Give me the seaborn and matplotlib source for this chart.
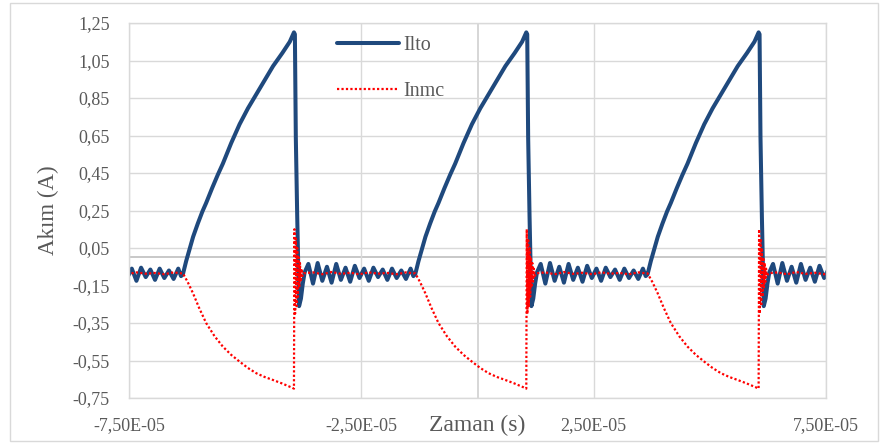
import numpy as np
import pandas as pd
import matplotlib
matplotlib.use("Agg")
import matplotlib.pyplot as plt
import seaborn as sns
from matplotlib.patches import Rectangle
from matplotlib.lines import Line2D

# ---------------- data ----------------
# ramp start times of the pulses (microseconds); period is 50 us
cycle_starts_us = [-113.4, -63.4, -13.4, 36.6]

# Ilto: one period, offsets from ramp start (us) and current (A)
ilto_offsets = [0.0, 0.7, 1.4, 2.2, 3.2, 4.2, 5.0, 6.3, 7.5, 8.6,
                10.4, 12.2, 14.0, 15.8, 17.6, 19.4, 21.4, 23.0, 23.9, 24.1,
                24.3, 24.6, 25.0, 25.4, 25.8, 26.2, 27.0, 28.0, 29.0, 30.0,
                31.0, 32.0, 33.0, 34.0, 35.0, 36.0, 37.0, 38.0, 39.0, 40.0,
                41.0, 42.0, 43.0, 44.0, 45.0, 46.0, 47.0, 48.0, 49.0, 49.6]
ilto_values = [-0.09, -0.02, 0.04, 0.11, 0.18, 0.245, 0.29, 0.37, 0.44, 0.50,
               0.61, 0.71, 0.795, 0.87, 0.945, 1.02, 1.09, 1.15, 1.20, 1.19,
               0.64, 0.22, -0.26, -0.22, -0.14, -0.08, -0.035, -0.14, -0.03, -0.125,
               -0.05, -0.135, -0.035, -0.12, -0.055, -0.13, -0.045, -0.11, -0.06, -0.125,
               -0.055, -0.105, -0.065, -0.12, -0.06, -0.11, -0.07, -0.115, -0.06, -0.10]

# Inmc: one period, offsets from ramp start (us) and current (A)
inmc_offsets = [0.0, 1.0, 2.15, 3.5, 5.0, 6.8, 8.6, 10.4, 12.2, 14.0,
                15.8, 17.6, 19.4, 21.3, 23.3, 23.9, 24.0, 24.15, 24.3, 24.45,
                24.6, 24.75, 24.9, 25.05, 25.2, 25.35, 25.5, 25.7, 26.0, 28.0,
                30.0, 32.0, 34.0, 36.0, 38.0, 40.0, 42.0, 44.0, 46.0, 48.0, 49.6]
inmc_values = [-0.085, -0.13, -0.19, -0.27, -0.35, -0.42, -0.476, -0.52, -0.556, -0.59,
               -0.618, -0.638, -0.654, -0.672, -0.693, -0.70, 0.15, -0.30, 0.10, -0.26,
               0.05, -0.21, 0.0, -0.16, -0.03, -0.13, -0.06, -0.10, -0.085, -0.08,
               -0.09, -0.078, -0.088, -0.082, -0.09, -0.08, -0.087, -0.083, -0.09, -0.08, -0.085]

yticks = [-0.75, -0.55, -0.35, -0.15, 0.05, 0.25, 0.45, 0.65, 0.85, 1.05, 1.25]
ytick_labels = ["-0,75", "-0,55", "-0,35", "-0,15", "0,05", "0,25", "0,45",
                "0,65", "0,85", "1,05", "1,25"]
xticks = [-7.5e-05, -2.5e-05, 2.5e-05, 7.5e-05]
xtick_labels = ["-7,50E-05", "-2,50E-05", "2,50E-05", "7,50E-05"]

series_names = ["Ilto", "Inmc"]
x_title = "Zaman (s)"
y_title = "Akım (A)"

# ---------------- build long tables ----------------
def build(offsets, values):
    t = np.concatenate([s + np.asarray(offsets) for s in cycle_starts_us]) * 1e-6
    v = np.tile(np.asarray(values), len(cycle_starts_us))
    m = (t > -77e-6) & (t < 77e-6)
    return t[m], v[m]

t1, v1 = build(ilto_offsets, ilto_values)
t2, v2 = build(inmc_offsets, inmc_values)
df1 = pd.DataFrame({"t": t1, "I": v1})
df2 = pd.DataFrame({"t": t2, "I": v2})

# ---------------- style ----------------
sns.set_theme(style="white")
plt.rcParams["font.family"] = ["Liberation Serif", "DejaVu Serif"]

W, H = 881, 443
fig = plt.figure(figsize=(W / 100, H / 100), dpi=100)
ax = fig.add_axes([129 / W, 1 - 398 / H, (826 - 129) / W, (398 - 23) / H])

blue = "#1F497D"
red = "#FF0000"
grid_c = "#D9D9D9"
text_c = "#595959"

sns.lineplot(data=df1, x="t", y="I", ax=ax, color=blue, lw=2.9,
             estimator=None, sort=False, legend=False)
sns.lineplot(data=df2, x="t", y="I", ax=ax, color=red, lw=1.6,
             linestyle=(0, (1, 1)), estimator=None, sort=False, legend=False)

ax.set_xlim(-7.5e-05, 7.5e-05)
ax.set_ylim(-0.75, 1.25)
ax.set_yticks(yticks)
ax.set_yticklabels(ytick_labels)
ax.set_xticks(xticks)
ax.set_xticklabels(xtick_labels)
ax.tick_params(axis="both", length=0, labelsize=13, colors=text_c)
ax.tick_params(axis="y", pad=14)
ax.tick_params(axis="x", pad=14)

ax.set_axisbelow(True)
ax.grid(True, color=grid_c, lw=1.0)
ax.axhline(0, color="#BFBFBF", lw=1.2, zorder=0.5)
ax.axvline(0, color="#D0D0D0", lw=1.2, zorder=0.5)
for sp in ax.spines.values():
    sp.set_color(grid_c)
    sp.set_linewidth(1.0)

ax.set_xlabel("")
ax.set_ylabel(y_title, fontsize=16.5, color=text_c)
ax.yaxis.set_label_coords(-(129 - 59) / 697, 0.5)
xt = ax.text(0.0, -0.75 - (425 - 398) / 375 * 2.0, x_title, fontsize=17,
             color=text_c, ha="center", va="center")
xt.set_clip_on(False)

handles = [Line2D([], [], color=blue, lw=2.9),
           Line2D([], [], color=red, lw=1.6, linestyle=(0, (1, 1)))]
leg = ax.legend(handles, series_names, loc="upper left",
                bbox_to_anchor=((337 - 129) / 697, 1 - (36 - 23) / 375),
                frameon=False, fontsize=14.5, handlelength=3.1,
                handletextpad=0.2, labelspacing=1.35, borderpad=0, borderaxespad=0)
for txt in leg.get_texts():
    txt.set_color(text_c)

fig.patches.append(Rectangle((10 / W, 1 - 441 / H), (878 - 10) / W, (441 - 3) / H,
                             transform=fig.transFigure, fill=False,
                             edgecolor=grid_c, lw=1.0))

fig.savefig("out.png", dpi=100, facecolor="white")
